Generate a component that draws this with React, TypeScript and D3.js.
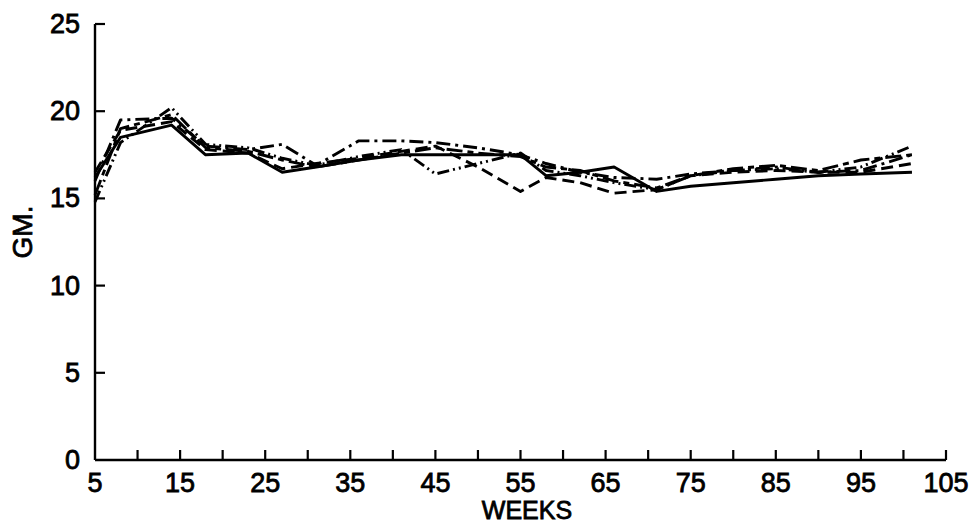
import React from "react";
import * as d3 from "d3";

const weeks = [5, 8, 14, 18, 23, 27, 31, 36, 41, 45, 50, 55, 58, 62, 66, 71, 75, 80, 85, 90, 95, 101];
const solidSeries = [16.2, 18.5, 19.2, 17.5, 17.6, 16.5, 16.8, 17.2, 17.5, 17.5, 17.5, 17.5, 16.3, 16.5, 16.8, 15.4, 15.7, 15.9, 16.1, 16.3, 16.4, 16.5];
const dashedSeries = [16.5, 18.9, 19.4, 17.8, 17.6, 16.7, 17.0, 17.3, 17.7, 18.0, 16.8, 15.4, 16.2, 15.9, 15.3, 15.5, 16.3, 16.5, 16.6, 16.5, 16.5, 17.0];
const dashDotSeries = [16.0, 19.5, 19.6, 18.0, 17.8, 18.1, 16.9, 18.3, 18.3, 18.2, 17.9, 17.5, 17.0, 16.5, 16.2, 16.1, 16.4, 16.6, 16.8, 16.5, 16.6, 17.5];
const dashDotDotSeries = [14.8, 18.2, 20.2, 18.1, 17.9, 17.3, 16.9, 17.4, 17.8, 16.4, 17.0, 17.6, 16.6, 16.3, 15.9, 15.5, 16.3, 16.6, 16.7, 16.5, 16.8, 18.0];
const longShortSeries = [15.2, 19.0, 19.8, 17.9, 17.7, 17.2, 16.8, 17.2, 17.6, 17.9, 17.6, 17.4, 16.8, 16.6, 16.0, 15.6, 16.3, 16.7, 16.9, 16.6, 17.2, 17.5];

const yTicks = [0, 5, 10, 15, 20, 25];
const xMinorTicks = d3.range(10, 106, 5);
const xLabels = [5, 15, 25, 35, 45, 55, 65, 75, 85, 95, 105];

const seriesList = [
  { values: solidSeries, dash: "none" },
  { values: dashedSeries, dash: "12,6" },
  { values: dashDotSeries, dash: "14,5,3,5" },
  { values: dashDotDotSeries, dash: "12,4,2,4,2,4" },
  { values: longShortSeries, dash: "16,5,6,5" },
];

export default function App() {
  const x = d3.scaleLinear().domain([5, 105]).range([95, 946]);
  const y = d3.scaleLinear().domain([0, 25]).range([460, 24]);
  const line = d3
    .line<[number, number]>()
    .x((d) => x(d[0]))
    .y((d) => y(d[1]));
  const font = "'Liberation Sans', Arial, Helvetica, sans-serif";
  const textStyle = { fontFamily: font, fill: "#000", stroke: "#000", strokeWidth: 0.8 };
  return (
    <svg
      width={971}
      height={525}
      style={{ position: "absolute", left: 0, top: 0, background: "#fff" }}
    >
      <rect x={0} y={0} width={971} height={525} fill="#fff" />
      {/* axes */}
      <line x1={x(5)} y1={y(25)} x2={x(5)} y2={y(0)} stroke="#000" strokeWidth={2.4} />
      <line x1={x(5)} y1={y(0)} x2={x(105)} y2={y(0)} stroke="#000" strokeWidth={2.4} />
      {yTicks.map((t) => (
        <g key={"y" + t}>
          {t > 0 && (
            <line x1={x(5)} y1={y(t)} x2={x(5) + 10} y2={y(t)} stroke="#000" strokeWidth={2.2} />
          )}
          <text x={80} y={y(t) + 9} textAnchor="end" fontSize={27} style={textStyle}>
            {t}
          </text>
        </g>
      ))}
      {xMinorTicks.map((t) => (
        <line key={"xt" + t} x1={x(t)} y1={y(0)} x2={x(t)} y2={y(0) - 10} stroke="#000" strokeWidth={2.2} />
      ))}
      {xLabels.map((t) => (
        <text key={"xl" + t} x={x(t)} y={492} textAnchor="middle" fontSize={27} style={textStyle}>
          {t}
        </text>
      ))}
      <text x={527} y={519} textAnchor="middle" fontSize={25} style={textStyle}>
        WEEKS
      </text>
      <text
        transform={`translate(32,232) rotate(-90)`}
        textAnchor="middle"
        fontSize={28}
        style={textStyle}
      >
        GM.
      </text>
      {seriesList.map((s, i) => (
        <path
          key={"s" + i}
          d={line(weeks.map((w, j) => [w, s.values[j]] as [number, number])) || ""}
          fill="none"
          stroke="#000"
          strokeWidth={2.9}
          strokeDasharray={s.dash}
          strokeLinejoin="round"
        />
      ))}
    </svg>
  );
}
